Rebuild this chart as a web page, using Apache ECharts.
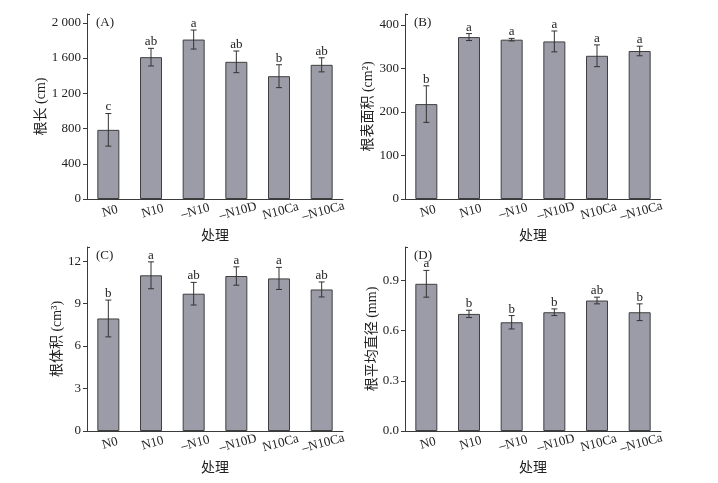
<!DOCTYPE html>
<html><head><meta charset="utf-8">
<script src="https://cdn.jsdelivr.net/npm/echarts@6/dist/echarts.min.js"></script>
<style>html,body{margin:0;padding:0;background:#fff}#c{width:718px;height:483px}</style>
</head><body><div id="c"></div>
<script>
const categories = ['N0','N10','–N10','–N10D','N10Ca','–N10Ca'];

const valuesA = [785, 1610, 1810, 1557, 1394, 1523];
const errorsA = [185, 100, 108, 123, 130, 80];
const lettersA = ['c','ab','a','ab','b','ab'];
const ticksA = [0, 400, 800, 1200, 1600, 2000];

const valuesB = [218, 372, 366, 362, 329, 340];
const errorsB = [42, 8, 3, 24, 25, 11];
const lettersB = ['b','a','a','a','a','a'];
const ticksB = [0, 100, 200, 300, 400];

const valuesC = [7.95, 11.0, 9.7, 10.95, 10.78, 10.0];
const errorsC = [1.3, 0.95, 0.8, 0.65, 0.78, 0.53];
const lettersC = ['b','a','ab','a','a','ab'];
const ticksC = [0, 3, 6, 9, 12];

const valuesD = [0.88, 0.70, 0.65, 0.71, 0.78, 0.71];
const errorsD = [0.08, 0.022, 0.04, 0.02, 0.02, 0.05];
const lettersD = ['a','b','b','b','ab','b'];
const ticksD = [0, 0.3, 0.6, 0.9];

const FONT = '"Liberation Serif", "Noto Sans CJK SC", serif';
const AX = '#3a3a3a';

const panels = [
  {tag:'(A)', v:valuesA, e:errorsA, l:lettersA, ticks:ticksA, max:2100, name:'根长 (cm)', gap:36,
   fmt:v=>v>=1000?String(v).replace(/(\d)(\d{3})$/,'$1 $2'):String(v),
   grid:{left:87,right:375,top:14,bottom:284}},
  {tag:'(B)', v:valuesB, e:errorsB, l:lettersB, ticks:ticksB, max:425, name:'根表面积 (cm²)', gap:27,
   fmt:v=>String(v), grid:{left:405,right:57,top:14,bottom:284}},
  {tag:'(C)', v:valuesC, e:errorsC, l:lettersC, ticks:ticksC, max:13, name:'根体积 (cm³)', gap:17,
   fmt:v=>String(v), grid:{left:87,right:375,top:247,bottom:52}},
  {tag:'(D)', v:valuesD, e:errorsD, l:lettersD, ticks:ticksD, max:1.1, name:'根平均直径 (mm)', gap:26,
   fmt:v=>v.toFixed(1), grid:{left:405,right:57,top:247,bottom:52}}
];

const option = {
  animation:false,
  backgroundColor:'#fff',
  textStyle:{fontFamily:FONT},
  grid:[], xAxis:[], yAxis:[], series:[], title:[]
};

panels.forEach((p, k) => {
  option.grid.push(p.grid);
  option.title.push({text:p.tag, left:p.grid.left+4, top:p.grid.top-3,
    textStyle:{fontFamily:FONT, fontSize:13, fontWeight:'normal', color:'#222'}});
  option.xAxis.push({
    type:'category', gridIndex:k, data:categories,
    name:'处理', nameLocation:'middle', nameGap:30,
    nameTextStyle:{fontFamily:FONT, fontSize:14, color:'#222'},
    axisLine:{lineStyle:{color:AX, width:1}},
    axisTick:{show:true, alignWithLabel:true, inside:true, length:3, lineStyle:{color:AX}},
    axisLabel:{rotate:15, align:'center', verticalAlign:'top', margin:6, fontSize:13, color:'#222', fontFamily:FONT, interval:0}
  });
  option.yAxis.push({
    type:'value', gridIndex:k, min:0, max:p.max,
    name:p.name, nameLocation:'middle', nameGap:p.gap,
    nameTextStyle:{fontFamily:FONT, fontSize:14, color:'#222'},
    splitLine:{show:false},
    axisLine:{show:true, lineStyle:{color:AX, width:1}},
    axisTick:{show:true, length:4, lineStyle:{color:AX}, customValues:p.ticks},
    axisLabel:{fontSize:13, color:'#222', margin:6, fontFamily:FONT, customValues:p.ticks, formatter:p.fmt}
  });
}); 

// inward end-cap tick at the top of each value axis
panels.forEach((p, k) => {
  option.yAxis.push({
    type:'value', gridIndex:k, min:0, max:p.max, position:'left',
    splitLine:{show:false},
    axisLine:{show:false},
    axisTick:{show:true, inside:true, length:3, lineStyle:{color:AX}, customValues:[p.max]},
    axisLabel:{show:false}
  });
});

panels.forEach((p, k) => {
  option.series.push({
    type:'bar', xAxisIndex:k, yAxisIndex:k, data:p.v, barWidth:22,
    itemStyle:{color:'#9c9ca8', borderColor:'#3f3f3f', borderWidth:1}
  });
  option.series.push({
    type:'custom', xAxisIndex:k, yAxisIndex:k, z:5,
    data:p.v.map((v,i)=>[i, v, p.e[i], p.l[i]]),
    renderItem:function(params, api){
      const i = api.value(0), v = api.value(1), e = api.value(2);
      const letter = p.l[i];
      const top = api.coord([i, v + e]);
      const bot = api.coord([i, v - e]);
      const x = top[0], cw = 3;
      const st = {stroke:'#333', lineWidth:1};
      return {type:'group', children:[
        {type:'line', shape:{x1:x, y1:top[1], x2:x, y2:bot[1]}, style:st},
        {type:'line', shape:{x1:x-cw, y1:top[1], x2:x+cw, y2:top[1]}, style:st},
        {type:'line', shape:{x1:x-cw, y1:bot[1], x2:x+cw, y2:bot[1]}, style:st},
        {type:'text', x:x, y:top[1], style:{text:letter, fill:'#222', font:'13px ' + FONT, align:'center', verticalAlign:'bottom'}}
      ]};
    }
  });
});

const chart = echarts.init(document.getElementById('c'), null, {renderer:'canvas'});
chart.setOption(option);
</script>
</body></html>
